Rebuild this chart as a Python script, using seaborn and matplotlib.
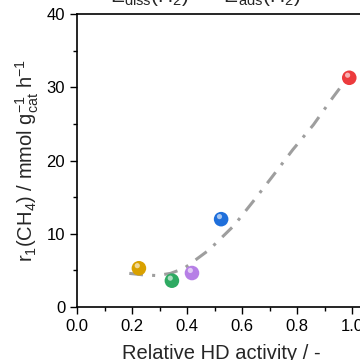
import numpy as np
import pandas as pd
import matplotlib
matplotlib.use("Agg")
import matplotlib.pyplot as plt
import seaborn as sns
from matplotlib.ticker import MultipleLocator

# measured catalysts
hd_activity = [0.225, 0.345, 0.418, 0.524, 0.99]
rate_ch4 = [5.3, 3.6, 4.65, 12.0, 31.3]
sample = ["A", "B", "C", "D", "E"]
colors = ["#D9A100", "#2EAA62", "#B67FE6", "#1F6FDB", "#EC3B3D"]

# trend line
trend_x = [0.19, 0.24, 0.29, 0.34, 0.39, 0.48, 0.57, 0.64, 0.71, 0.785, 0.86, 0.93, 0.98]
trend_y = [4.6, 4.4, 4.3, 4.6, 5.3, 7.8, 11.1, 14.4, 17.8, 21.5, 24.9, 28.6, 31.1]

sns.set_style("ticks")
plt.rcParams["font.family"] = ["Liberation Sans", "DejaVu Sans"]
plt.rcParams["mathtext.fontset"] = "custom"
plt.rcParams["mathtext.rm"] = "Liberation Sans"
plt.rcParams["mathtext.it"] = "Liberation Sans:italic"

fig = plt.figure(figsize=(3.6, 3.6), dpi=100)
ax = fig.add_axes([0.214, 0.147, 0.802, 0.814])

df = pd.DataFrame({"x": hd_activity, "y": rate_ch4, "s": sample})
trend = pd.DataFrame({"x": trend_x, "y": trend_y})

sns.lineplot(data=trend, x="x", y="y", ax=ax, color="#9E9E9E", lw=2.2,
             linestyle=(0, (4.5, 3, 1, 3)), zorder=1)
sns.scatterplot(data=df, x="x", y="y", hue="s", palette=colors, s=110,
                edgecolor="none", legend=False, ax=ax, zorder=3)
# highlight on each sphere
ax.scatter(df["x"] - 0.006, df["y"] + 0.35, s=14, color="white", alpha=0.6,
           edgecolor="none", zorder=4)

ax.set_xlim(0, 1.05)
ax.set_ylim(0, 40)
ax.xaxis.set_major_locator(MultipleLocator(0.2))
ax.xaxis.set_minor_locator(MultipleLocator(0.1))
ax.yaxis.set_major_locator(MultipleLocator(10))
ax.yaxis.set_minor_locator(MultipleLocator(5))
ax.tick_params(which="major", length=5, width=1, labelsize=12, color="black",
               labelcolor="black")
ax.tick_params(which="minor", length=3, width=1, color="black")
for sp in ax.spines.values():
    sp.set_color("black")
    sp.set_linewidth(1.2)

ax.set_xlabel("Relative HD activity / -", fontsize=14.5, labelpad=7)
ax.set_ylabel(r"r$_1$(CH$_4$) / mmol g$_{\rm cat}^{-1}$ h$^{-1}$", fontsize=14.5,
              labelpad=4)

fig.text(0.305, 0.994, r"E$_{\rm diss}$(H$_2$)  ~  E$_{\rm ads}$(H$_2$)",
         fontsize=15, va="baseline", ha="left")

fig.savefig("out.png", dpi=100)
